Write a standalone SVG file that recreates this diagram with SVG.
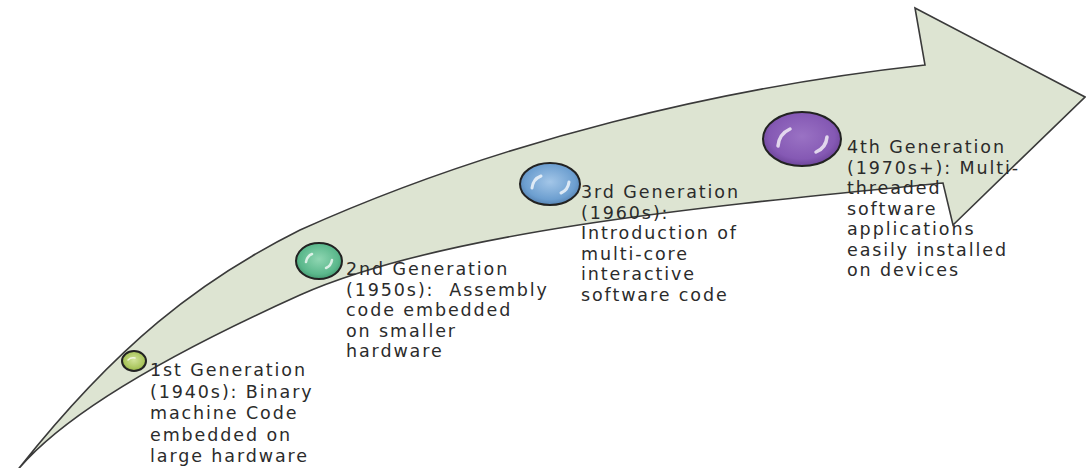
<svg xmlns="http://www.w3.org/2000/svg" width="1086" height="468" viewBox="0 0 1086 468">
  <defs>
    <radialGradient id="g-lime" cx="50%" cy="45%" r="60%">
      <stop offset="0" stop-color="#d2e49a"/>
      <stop offset="0.7" stop-color="#a9c55c"/>
      <stop offset="1" stop-color="#7e9c3a"/>
    </radialGradient>
    <radialGradient id="g-green" cx="50%" cy="45%" r="60%">
      <stop offset="0" stop-color="#8fd6b2"/>
      <stop offset="0.7" stop-color="#5bb88c"/>
      <stop offset="1" stop-color="#3d8f68"/>
    </radialGradient>
    <radialGradient id="g-blue" cx="50%" cy="45%" r="60%">
      <stop offset="0" stop-color="#a3c6e8"/>
      <stop offset="0.7" stop-color="#6d9fd0"/>
      <stop offset="1" stop-color="#4d78a8"/>
    </radialGradient>
    <radialGradient id="g-purple" cx="50%" cy="45%" r="60%">
      <stop offset="0" stop-color="#9a72c4"/>
      <stop offset="0.7" stop-color="#8559b4"/>
      <stop offset="1" stop-color="#643d90"/>
    </radialGradient>
  </defs>
  <style>
    .band { fill: #dde4d2; stroke: #3a3a3a; stroke-width: 1.6; stroke-linejoin: miter; }
    .ball { stroke: #222; stroke-width: 2; }
    .shine { fill: none; stroke: #ffffff; stroke-linecap: round; opacity: 0.75; }
    .label { font-family: "DejaVu Sans", Verdana, sans-serif; font-size: 17.5px; letter-spacing: 1.9px; fill: #2b2b2b; white-space: pre; }
  </style>

  <rect width="1086" height="468" fill="#ffffff"/>

  <!-- curved timeline arrow -->
  <g id="arrow">
    <path class="band" d="M16 472
      C116 345 200 280 300 230
      C500 140 725 87 925 65
      L915 8 L1085 97 L953 225 L943 183
      C743 203 450 228 300 295
      C200 340 70 405 16 472 Z"/>
  </g>

  <g id="connectors"></g>

  <!-- 1st generation -->
  <g id="gen1">
    <ellipse class="ball" cx="134" cy="361" rx="12" ry="10" fill="url(#g-lime)"/>
    <path class="shine" stroke-width="1.5" d="M128 360 q3 -3 7 -2"/>
    <text class="label" x="150">
      <tspan x="150" y="376">1st Generation</tspan>
      <tspan x="150" y="397.5">(1940s): Binary</tspan>
      <tspan x="150" y="419">machine Code</tspan>
      <tspan x="150" y="440.5">embedded on</tspan>
      <tspan x="150" y="462">large hardware</tspan>
    </text>
  </g>

  <!-- 2nd generation -->
  <g id="gen2">
    <ellipse class="ball" cx="319" cy="261" rx="23" ry="18" fill="url(#g-green)"/>
    <path class="shine" stroke-width="2.5" d="M306 262 q1 -6 6 -8"/>
    <path class="shine" stroke-width="2.5" d="M332 260 q-1 6 -6 8"/>
    <text class="label" x="346">
      <tspan x="346" y="275">2nd Generation</tspan>
      <tspan x="346" y="295.5">(1950s):  Assembly</tspan>
      <tspan x="346" y="316">code embedded</tspan>
      <tspan x="346" y="336.5">on smaller</tspan>
      <tspan x="346" y="357">hardware</tspan>
    </text>
  </g>

  <!-- 3rd generation -->
  <g id="gen3">
    <ellipse class="ball" cx="550" cy="184" rx="30" ry="21" fill="url(#g-blue)"/>
    <path class="shine" stroke-width="3" d="M532 188 q1 -9 9 -12"/>
    <path class="shine" stroke-width="3" d="M569 182 q-1 8 -8 11"/>
    <text class="label" x="581">
      <tspan x="581" y="198">3rd Generation</tspan>
      <tspan x="581" y="218.5">(1960s):</tspan>
      <tspan x="581" y="239">Introduction of</tspan>
      <tspan x="581" y="259.5">multi-core</tspan>
      <tspan x="581" y="280">interactive</tspan>
      <tspan x="581" y="300.5">software code</tspan>
    </text>
  </g>

  <!-- 4th generation -->
  <g id="gen4">
    <ellipse class="ball" cx="802" cy="139" rx="39" ry="27" fill="url(#g-purple)"/>
    <path class="shine" stroke-width="3.5" d="M778 146 q1 -12 12 -17"/>
    <path class="shine" stroke-width="3.5" d="M827 137 q-1 11 -11 15"/>
    <text class="label" x="847">
      <tspan x="847" y="153">4th Generation</tspan>
      <tspan x="847" y="173.5">(1970s+): Multi-</tspan>
      <tspan x="847" y="194">threaded</tspan>
      <tspan x="847" y="214.5">software</tspan>
      <tspan x="847" y="235">applications</tspan>
      <tspan x="847" y="255.5">easily installed</tspan>
      <tspan x="847" y="276">on devices</tspan>
    </text>
  </g>
</svg>
